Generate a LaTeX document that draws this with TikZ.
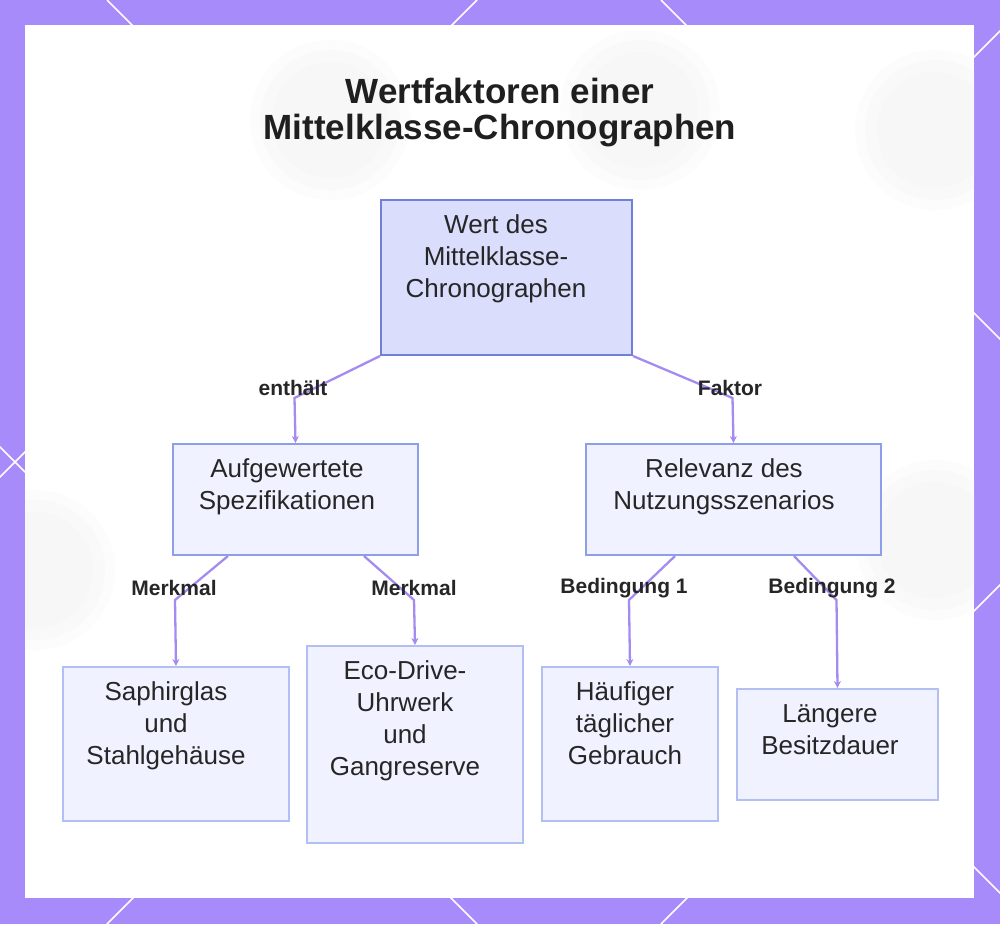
\documentclass[tikz,border=0pt]{standalone}
\usepackage{fontspec}
\setmainfont{Liberation Sans}
\usetikzlibrary{arrows.meta}
\definecolor{frame}{HTML}{A78BFA}
\definecolor{conn}{HTML}{A58BF0}
\definecolor{rootfill}{HTML}{DADDFB}
\definecolor{rootdraw}{HTML}{6F80D9}
\definecolor{kidfill}{HTML}{F0F2FF}
\definecolor{kiddraw}{HTML}{8E9EE8}
\definecolor{leafdraw}{HTML}{B3BEF2}
\definecolor{ink}{HTML}{262626}
\tikzset{
  boxbase/.style={rectangle, inner sep=0pt, anchor=north west},
  rootbox/.style={boxbase, fill=rootfill, draw=rootdraw, line width=2pt},
  kidbox/.style={boxbase, fill=kidfill, draw=kiddraw, line width=2pt},
  leafbox/.style={boxbase, fill=kidfill, draw=leafdraw, line width=2pt},
  boxtext/.style={anchor=north, inner sep=0pt, align=center, text=ink,
     font=\fontsize{26}{32}\selectfont},
  lab/.style={font=\fontsize{21}{24}\selectfont\bfseries, text=ink, inner sep=0pt},
  link/.style={draw=conn, line width=2.3pt, -{Stealth[length=7pt,width=7pt]}},
  deco/.style={white, line width=1.6pt},
}
\newcommand{\fs}{\rule{0pt}{23pt}}
\begin{document}
\begin{tikzpicture}[x=1pt,y=-1pt]
\useasboundingbox (0,0) rectangle (1000,924);
% frame
\fill[frame] (0,0) rectangle (1000,924);
\begin{scope}
\clip (0,0) rectangle (1000,924);
\foreach \c in {-447,107,661} \draw[deco] (\c,0) -- ++(924,924);
\foreach \d in {477,1031,1585} \draw[deco] (\d,0) -- ++(-924,924);
\end{scope}
\fill[white] (25,25) rectangle (974,898);
% faint background blobs
\begin{scope}
\clip (25,25) rectangle (974,898);
\foreach \r/\o in {80/0.25,70/0.35,58/0.45}{
  \fill[black!4, opacity=\o] (330,120) circle (\r);
  \fill[black!4, opacity=\o] (640,110) circle (\r);
  \fill[black!4, opacity=\o] (935,130) circle (\r);
  \fill[black!4, opacity=\o] (35,570) circle (\r);
  \fill[black!4, opacity=\o] (935,540) circle (\r);
}
\end{scope}
% title
\node[font=\fontsize{35}{36}\selectfont\bfseries, text=black!88, align=center, inner sep=0pt] (title) at (500,113) {Wertfaktoren einer\\Mittelklasse-Chronographen};
% boxes
\node[rootbox, minimum width=251pt, minimum height=155pt] (root) at (380,199) {};
\node[boxtext] (roott) at (496,210) {\fs Wert des\\Mittelklasse-\\Chronographen};
\node[kidbox, minimum width=245pt, minimum height=111pt] (aufg) at (172,443) {};
\node[boxtext] (aufgt) at (287,454) {\fs Aufgewertete\\Spezifikationen};
\node[kidbox, minimum width=295pt, minimum height=111pt] (rel) at (585,443) {};
\node[boxtext] (relt) at (724,454) {\fs Relevanz des\\Nutzungsszenarios};
\node[leafbox, minimum width=226pt, minimum height=154pt] (saph) at (62,666) {};
\node[boxtext] (sapht) at (166,677) {\fs Saphirglas\\und\\Stahlgehäuse};
\node[leafbox, minimum width=216pt, minimum height=197pt] (eco) at (306,645) {};
\node[boxtext] (ecot) at (405,656) {\fs Eco-Drive-\\Uhrwerk\\und\\Gangreserve};
\node[leafbox, minimum width=176pt, minimum height=154pt] (haeu) at (541,666) {};
\node[boxtext] (haeut) at (625,677) {\fs Häufiger\\täglicher\\Gebrauch};
\node[leafbox, minimum width=201pt, minimum height=111pt] (laen) at (736,688) {};
\node[boxtext] (laent) at (830,699) {\fs Längere\\Besitzdauer};
% bends
\coordinate (b1) at (294.5,398);
\coordinate (b2) at (732.5,398);
\coordinate (b3) at (175,600);
\coordinate (b4) at (414,600);
\coordinate (b5) at (629,600);
\coordinate (b6) at (836.5,600);
% connectors
\draw[link] (root.south west) -- (b1) -- (aufg.north);
\draw[link] (root.south east) -- (b2) -- (rel.north);
\draw[link] (aufg.south west) ++(56,0) -- (b3) -- (saph.north);
\draw[link] (aufg.south east) ++(-55,0) -- (b4) -- (eco.north);
\draw[link] (rel.south west) ++(90,0) -- (b5) -- (haeu.north);
\draw[link] (rel.south east) ++(-88,0) -- (b6) -- (laen.north);
% labels
\node[lab] (l1) at (293,388) {enthält};
\node[lab] (l2) at (730,388) {Faktor};
\node[lab] (l3) at (174,588) {Merkmal};
\node[lab] (l4) at (414,588) {Merkmal};
\node[lab] (l5) at (624,588) {Bedingung 1};
\node[lab] (l6) at (832,588) {Bedingung 2};
\end{tikzpicture}
\end{document}
